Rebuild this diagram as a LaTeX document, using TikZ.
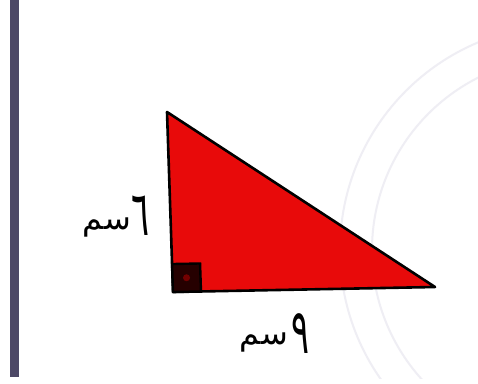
\documentclass[tikz,border=0pt]{standalone}
\usepackage{fontspec}
\usepackage{xcolor}
\usetikzlibrary{calc}
\TeXXeTstate=1
\newfontfamily\arabicfont[Script=Arabic]{DejaVu Sans}
\definecolor{edge}{HTML}{4d4866}
\definecolor{redfill}{HTML}{e80a0a}
\definecolor{faint}{HTML}{efeef4}

\begin{document}
\begin{tikzpicture}[x=1pt, y=-1pt,
  tri/.style={draw=black, line width=2.6pt, line join=round, fill=redfill},
  anglebox/.style={draw=black, line width=2.4pt, fill=black!85!red},
  unit/.style={font=\arabicfont\fontsize{32}{36}\selectfont, inner sep=0pt, anchor=base east},
  digit/.style={font=\arabicfont\fontsize{32}{36}\selectfont, inner sep=0pt, anchor=base west,
    transform shape, xscale=1.05, yscale=1.95},
  arcline/.style={draw=faint, line width=2pt}
]
  \useasboundingbox[fill=white] (0,0) rectangle (478,383);
  \begin{scope}
    \clip (0,0) rectangle (478,378);
    \draw[arcline] (565,250) circle[radius=225];
    \draw[arcline] (565,250) circle[radius=193];
  \end{scope}
  \fill[edge] (10,0) rectangle (19,377);
  \coordinate (top) at (167,112);
  \coordinate (corner) at (173,292);
  \coordinate (tip) at (435,287);
  \draw[tri] (top) -- (corner) -- (tip) -- cycle;
  \coordinate (up) at ($(corner)!28pt!(top)$);
  \coordinate (right) at ($(corner)!28pt!(tip)$);
  \draw[anglebox] (corner) -- (up) -- ($(up)+(right)-(corner)$) -- (right) -- cycle;
  \fill[red!45!black] ($(corner)!0.5!($(up)+(right)-(corner)$)$) circle[radius=3.5pt];
  \node[unit] (unitA) at (131,229) {\beginR سم\endR};
  \node[digit] (numA) at ($(unitA.base east)+(0,6)$) {٦};
  \node[unit] (unitB) at (288,344) {\beginR سم\endR};
  \node[digit] (numB) at ($(unitB.base east)+(3,9)$) {٩};
\end{tikzpicture}
\end{document}
